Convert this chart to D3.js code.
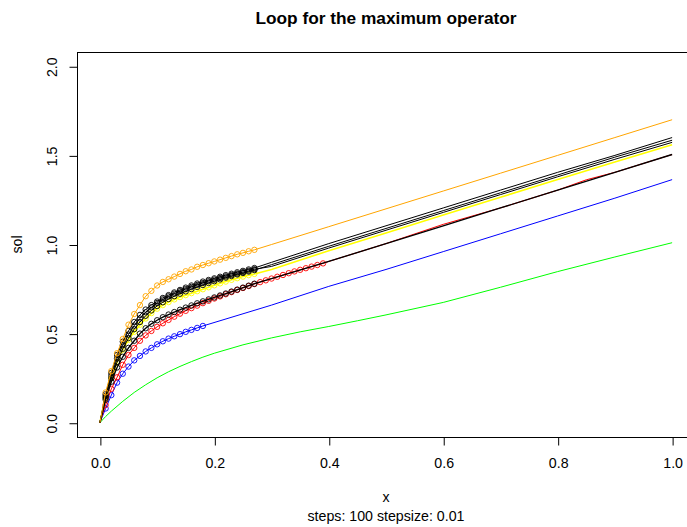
<!DOCTYPE html>
<html>
<head>
<meta charset="utf-8">
<script src="https://cdn.jsdelivr.net/npm/d3@7"></script>
<style>
  html, body { margin: 0; padding: 0; background: #fff; }
  svg { display: block; font-family: "Liberation Sans", Arial, sans-serif; }
</style>
</head>
<body>
<svg id="chart" width="687" height="527"></svg>
<script>
// ---------------- data ----------------
const stepsize = 0.01;                       // circles are drawn at x = i * stepsize
const xTicks = [0, 0.2, 0.4, 0.6, 0.8, 1.0];
const yTicks = [0, 0.5, 1.0, 1.5, 2.0];
const tailX    = [0.3, 0.4, 0.5, 0.6, 0.7, 0.8, 0.9, 1.0];
const redTailX = [0.4, 0.5, 0.6, 0.7, 0.8, 0.85, 0.9, 1.0];

const greenX = [0, 0.01, 0.02, 0.04, 0.06, 0.08, 0.1, 0.12, 0.14, 0.16, 0.18, 0.2, 0.25, 0.3, 0.35, 0.4, 0.45, 0.5, 0.6, 0.7, 0.8, 0.9, 1.0];
const greenY = [0, 0.035, 0.065, 0.12, 0.17, 0.213, 0.252, 0.286, 0.316, 0.343, 0.368, 0.39, 0.437, 0.476, 0.51, 0.54, 0.572, 0.605, 0.675, 0.76, 0.848, 0.93, 1.01];

const blueHead = [0, 0.08, 0.155, 0.225, 0.275, 0.315, 0.35, 0.375, 0.40, 0.42, 0.44, 0.457, 0.472, 0.485, 0.497, 0.51, 0.521, 0.532, 0.543];
const blueTail = [0.66, 0.765, 0.86, 0.96, 1.06, 1.16, 1.26, 1.364];

const yellowHead = [0, 0.14, 0.25, 0.34, 0.41, 0.465, 0.51, 0.55, 0.585, 0.615, 0.64, 0.66, 0.677, 0.692, 0.705, 0.716, 0.727, 0.738, 0.749, 0.76, 0.771, 0.782, 0.792, 0.802, 0.811, 0.82, 0.828, 0.835];
const yellowTail = [0.86, 0.965, 1.065, 1.165, 1.265, 1.365, 1.463, 1.56];

const redHead = [0, 0.10, 0.19, 0.255, 0.325, 0.38, 0.42, 0.46, 0.49, 0.515,
                 0.538, 0.558, 0.577, 0.595, 0.612, 0.628, 0.643, 0.657, 0.671, 0.684,
                 0.697, 0.709, 0.721, 0.733, 0.745, 0.756, 0.767, 0.778, 0.789, 0.799,
                 0.809, 0.819, 0.829, 0.839, 0.849, 0.858, 0.867, 0.876, 0.885, 0.894];
const redTail = [0.905, 1.005, 1.113, 1.205, 1.305, 1.363, 1.405, 1.505];

const blackDHead = [0, 0.13, 0.23, 0.31, 0.37, 0.42, 0.46, 0.50, 0.53, 0.555, 0.575, 0.592, 0.607, 0.621, 0.634, 0.646, 0.658, 0.67, 0.681, 0.692, 0.703, 0.714, 0.725, 0.736, 0.747, 0.758, 0.769, 0.78];
const blackDTail = [0.809, 0.905, 1.005, 1.105, 1.205, 1.305, 1.405, 1.505];

const blackBHead = [0, 0.14, 0.25, 0.34, 0.415, 0.475, 0.525, 0.565, 0.60, 0.63, 0.655, 0.676, 0.694, 0.71, 0.724, 0.737, 0.75, 0.762, 0.773, 0.784, 0.794, 0.804, 0.814, 0.823, 0.832, 0.84, 0.848, 0.856];
const blackBTail = [0.887, 0.99, 1.09, 1.19, 1.29, 1.39, 1.49, 1.585];

const blackFHead = [0, 0.15, 0.265, 0.36, 0.435, 0.495, 0.545, 0.585, 0.62, 0.648, 0.672, 0.692, 0.709, 0.724, 0.738, 0.75, 0.762, 0.773, 0.784, 0.794, 0.803, 0.812, 0.821, 0.829, 0.837, 0.845, 0.853, 0.861];
const blackFTail = [0.877, 0.98, 1.08, 1.18, 1.28, 1.38, 1.478, 1.573];

const blackAHead = [0, 0.16, 0.28, 0.38, 0.455, 0.515, 0.565, 0.605, 0.635, 0.66, 0.68, 0.70, 0.716, 0.731, 0.745, 0.758, 0.77, 0.781, 0.792, 0.801, 0.81, 0.819, 0.828, 0.836, 0.844, 0.852, 0.86, 0.868];
const blackATail = [0.90, 1.005, 1.105, 1.205, 1.305, 1.405, 1.50, 1.60];

const orangeHead = [0, 0.17, 0.29, 0.39, 0.47, 0.55, 0.61, 0.66, 0.71, 0.74, 0.77, 0.79, 0.805, 0.82, 0.835, 0.85, 0.86, 0.875, 0.885, 0.895, 0.905, 0.915, 0.925, 0.935, 0.945, 0.953, 0.962, 0.97];
const orangeTail = [1.0, 1.10, 1.20, 1.30, 1.40, 1.50, 1.60, 1.70];

// ---------------- build ----------------
const head = arr => arr.map((y, i) => [i * stepsize, y]);
const tail = (xs, ys) => xs.map((x, i) => [x, ys[i]]);
const pts  = arr => head(arr).slice(1);      // no circle drawn at the origin

const series = [
  { color: "#00FF00", circles: [], line: tail(greenX, greenY) },
  { color: "#0000FF", circles: pts(blueHead), line: head(blueHead).concat(tail(tailX, blueTail)) },
  { color: "#FFFF00", width: 1.6, circles: pts(yellowHead), line: head(yellowHead).concat(tail(tailX, yellowTail)) },
  { color: "#FF0000", circles: pts(redHead), line: head(redHead).concat(tail(redTailX, redTail)) },
  { color: "#000000", width: 1.35, circles: pts(blackDHead), line: head(blackDHead).concat(tail(tailX, blackDTail)) },
  { color: "#000000", circles: pts(blackBHead), line: head(blackBHead).concat(tail(tailX, blackBTail)) },
  { color: "#000000", circles: pts(blackFHead), line: head(blackFHead).concat(tail(tailX, blackFTail)) },
  { color: "#000000", circles: pts(blackAHead), line: head(blackAHead).concat(tail(tailX, blackATail)) },
  { color: "#FFA500", circles: pts(orangeHead), line: head(orangeHead).concat(tail(tailX, orangeTail)) }
];

// ---------------- layout ----------------
const svg = d3.select("#chart");
const box = { left: 77, right: 695, top: 52, bottom: 437 };

const x = d3.scaleLinear().domain([-0.04, 1.04]).range([box.left, box.right]);
const y = d3.scaleLinear().domain([-0.08, 2.08]).range([box.bottom, box.top]);

const plot = svg.append("g");
const lineGen = d3.line().x(d => x(d[0])).y(d => y(d[1]));

series.forEach(s => {
  plot.append("path")
    .attr("d", lineGen(s.line))
    .attr("fill", "none")
    .attr("stroke", s.color)
    .attr("stroke-width", s.width || 1);
  plot.selectAll(null)
    .data(s.circles)
    .enter().append("circle")
    .attr("cx", d => x(d[0]))
    .attr("cy", d => y(d[1]))
    .attr("r", 2.7)
    .attr("fill", "none")
    .attr("stroke", s.color)
    .attr("stroke-width", 0.9);
});

// box
svg.append("rect")
  .attr("x", box.left + 0.5).attr("y", box.top + 0.5)
  .attr("width", box.right - box.left).attr("height", box.bottom - box.top)
  .attr("fill", "none").attr("stroke", "#000").attr("stroke-width", 1);

// x axis
const xAxis = d3.axisBottom(x).tickValues(xTicks).tickSize(8).tickPadding(12)
  .tickFormat(d3.format(".1f"));
const gx = svg.append("g").attr("transform", `translate(0.5,${box.bottom + 0.5})`).call(xAxis);
gx.select(".domain").attr("d", `M${x(0)},0H${x(1)}`);
gx.selectAll("text").attr("font-size", 14.2).attr("fill", "#000")
  .attr("font-family", "Liberation Sans, Arial, sans-serif");

// y axis
const yAxis = d3.axisLeft(y).tickValues(yTicks).tickSize(8).tickPadding(0)
  .tickFormat(d3.format(".1f"));
const gy = svg.append("g").attr("transform", `translate(${box.left + 0.5},0.5)`).call(yAxis);
gy.select(".domain").attr("d", `M0,${y(0)}V${y(2)}`);
gy.selectAll("text")
  .attr("font-size", 14.2).attr("fill", "#000")
  .attr("font-family", "Liberation Sans, Arial, sans-serif")
  .attr("text-anchor", "middle")
  .attr("x", 0).attr("dy", 0)
  .attr("transform", "translate(-20.5,0) rotate(-90)");

// titles
const cx = (box.left + box.right) / 2;
svg.append("text").attr("x", cx).attr("y", 24)
  .attr("text-anchor", "middle").attr("font-weight", "bold").attr("font-size", 17.3)
  .text("Loop for the maximum operator");
svg.append("text").attr("x", cx).attr("y", 502)
  .attr("text-anchor", "middle").attr("font-size", 14.2).text("x");
svg.append("text").attr("x", cx).attr("y", 521)
  .attr("text-anchor", "middle").attr("font-size", 14.2).text("steps: 100 stepsize: 0.01");
svg.append("text")
  .attr("transform", `translate(22,${(box.top + box.bottom) / 2}) rotate(-90)`)
  .attr("text-anchor", "middle").attr("font-size", 14.2).text("sol");
</script>
</body>
</html>
